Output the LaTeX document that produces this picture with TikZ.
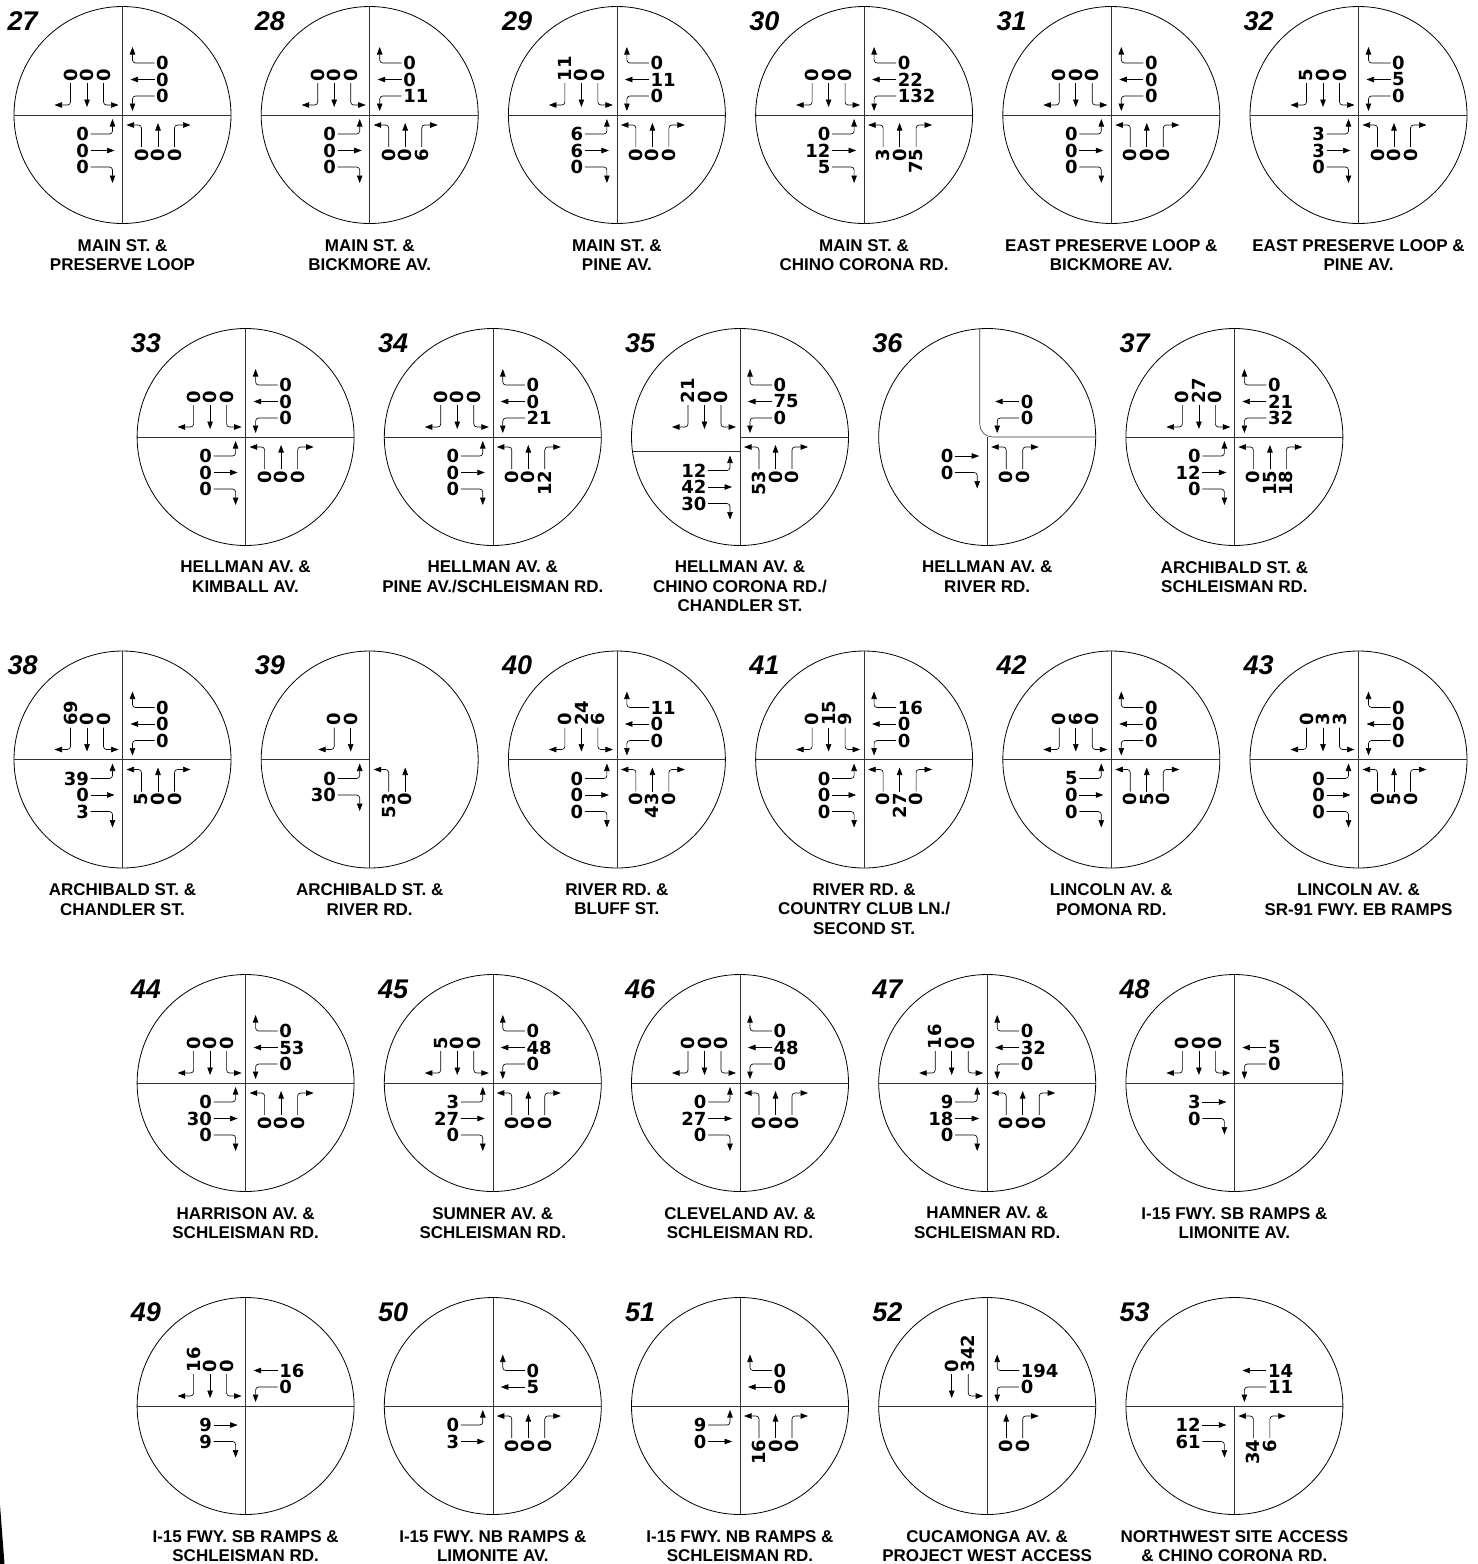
\documentclass[tikz,border=0pt]{standalone}
\usepackage{fontspec}
\setmainfont{Liberation Sans}
\newfontfamily\countfont{DejaVu Sans Bold}
\usetikzlibrary{arrows.meta,calc}

\newcount\slotno

\tikzset{
  ring/.style={line width=0.8pt},
  road/.style={line width=0.6pt,draw=black!80},
  mv/.style={line width=0.65pt,rounded corners=3pt,-{Triangle[length=7.5pt,width=5.5pt]}},
  cnt/.style={inner sep=0.5pt,font=\countfont\fontsize{18}{18}\selectfont},
  cnt0/.style={cnt,rotate=90,anchor=east},
  cnt90/.style={cnt,anchor=west},
  cnt180/.style={cnt,rotate=90,anchor=west},
  cnt270/.style={cnt,anchor=east},
  tag/.style={inner sep=0pt,anchor=base west,font=\bfseries\itshape\fontsize{27}{27}\selectfont},
  street/.style={inner sep=0pt,anchor=north,align=center,font=\bfseries\fontsize{17}{19.5}\selectfont}
}

% circle, number and street names
\newcommand{\xing}[5]{%
  \coordinate (#1) at (#2,#3);
  \draw[ring] (#1) circle[radius=108.5];
  \node[tag] (t#4) at ($(#1)+(-115,85)$) {#4};
  \node[street] (s#4) at ($(#1)+(0,-124)$) {#5};}

\newcommand{\fullcross}[1]{%
  \draw[road] ($(#1)+(-108.5,0)$) -- ($(#1)+(108.5,0)$)
              ($(#1)+(0,108.5)$) -- ($(#1)+(0,-108.5)$);}

% one approach: centre, angle (0 NB, 90 WB, 180 SB, 270 EB), left, through, right
\newcommand{\appr}[5]{%
  \begin{scope}[shift={(#1)},rotate=#2]
    \slotno=0
    \if\relax\detokenize{#3}\relax\else
      \advance\slotno by 1
      \pgfmathsetmacro\pos{19+16.5*(\the\slotno-1)}
      \draw[mv] (\pos,-32) -- (\pos,-10) -- ({\pos-15},-10);
      \node[cnt#2] (#1-#2-l) at (\pos,-33) {#3};
    \fi
    \if\relax\detokenize{#4}\relax\else
      \advance\slotno by 1
      \pgfmathsetmacro\pos{19+16.5*(\the\slotno-1)}
      \draw[mv] (\pos,-32) -- (\pos,-8);
      \node[cnt#2] (#1-#2-t) at (\pos,-33) {#4};
    \fi
    \if\relax\detokenize{#5}\relax\else
      \advance\slotno by 1
      \pgfmathsetmacro\pos{19+16.5*(\the\slotno-1)}
      \draw[mv] (\pos,-32) -- (\pos,-10) -- ({\pos+16},-10);
      \node[cnt#2] (#1-#2-r) at (\pos,-33) {#5};
    \fi
  \end{scope}}

\begin{document}
\begin{tikzpicture}[x=1pt,y=1pt]
  \useasboundingbox (0,0) rectangle (1478,-1564);

  % row 1
  \xing{c27}{122.5}{-115}{27}{MAIN ST. \&\\PRESERVE LOOP}
  \fullcross{c27}
  \appr{c27}{0}{0}{0}{0}
  \appr{c27}{90}{0}{0}{0}
  \appr{c27}{180}{0}{0}{0}
  \appr{c27}{270}{0}{0}{0}

  \xing{c28}{369.7}{-115}{28}{MAIN ST. \&\\BICKMORE AV.}
  \fullcross{c28}
  \appr{c28}{0}{0}{0}{6}
  \appr{c28}{90}{11}{0}{0}
  \appr{c28}{180}{0}{0}{0}
  \appr{c28}{270}{0}{0}{0}

  \xing{c29}{616.9}{-115}{29}{MAIN ST. \&\\PINE AV.}
  \fullcross{c29}
  \appr{c29}{0}{0}{0}{0}
  \appr{c29}{90}{0}{11}{0}
  \appr{c29}{180}{0}{0}{11}
  \appr{c29}{270}{6}{6}{0}

  \xing{c30}{864.1}{-115}{30}{MAIN ST. \&\\CHINO CORONA RD.}
  \fullcross{c30}
  \appr{c30}{0}{3}{0}{75}
  \appr{c30}{90}{132}{22}{0}
  \appr{c30}{180}{0}{0}{0}
  \appr{c30}{270}{0}{12}{5}

  \xing{c31}{1111.3}{-115}{31}{EAST PRESERVE LOOP \&\\BICKMORE AV.}
  \fullcross{c31}
  \appr{c31}{0}{0}{0}{0}
  \appr{c31}{90}{0}{0}{0}
  \appr{c31}{180}{0}{0}{0}
  \appr{c31}{270}{0}{0}{0}

  \xing{c32}{1358.5}{-115}{32}{EAST PRESERVE LOOP \&\\PINE AV.}
  \fullcross{c32}
  \appr{c32}{0}{0}{0}{0}
  \appr{c32}{90}{0}{5}{0}
  \appr{c32}{180}{0}{0}{5}
  \appr{c32}{270}{3}{3}{0}

  % row 2
  \xing{c33}{245.6}{-437}{33}{HELLMAN AV. \&\\KIMBALL AV.}
  \fullcross{c33}
  \appr{c33}{0}{0}{0}{0}
  \appr{c33}{90}{0}{0}{0}
  \appr{c33}{180}{0}{0}{0}
  \appr{c33}{270}{0}{0}{0}

  \xing{c34}{492.8}{-437}{34}{HELLMAN AV. \&\\PINE AV./SCHLEISMAN RD.}
  \fullcross{c34}
  \appr{c34}{0}{0}{0}{12}
  \appr{c34}{90}{21}{0}{0}
  \appr{c34}{180}{0}{0}{0}
  \appr{c34}{270}{0}{0}{0}

  \xing{c35}{740.0}{-437}{35}{HELLMAN AV. \&\\CHINO CORONA RD./\\CHANDLER ST.}
  \coordinate (c35e) at ($(c35)+(0,-14.5)$);
  \draw[road] ($(c35)+(0,108.5)$) -- ($(c35)+(0,-108.5)$);
  \draw[road] (c35) -- ($(c35)+(108.5,0)$);
  \draw[road] ($(c35e)+(-107.5,0)$) -- (c35e);
  \appr{c35}{0}{53}{0}{0}
  \appr{c35}{90}{0}{75}{0}
  \appr{c35}{180}{0}{0}{21}
  \appr{c35e}{270}{12}{42}{30}

  \xing{c36}{987.2}{-437}{36}{HELLMAN AV. \&\\RIVER RD.}
  \draw[road,rounded corners=13pt] ($(c36)+(-7.5,108.3)$) -- ($(c36)+(-7.5,0)$) -- ($(c36)+(108.5,0)$);
  \draw[road] (c36) -- ($(c36)+(0,-108.5)$);
  \appr{c36}{0}{0}{}{0}
  \appr{c36}{90}{0}{0}{}
  \appr{c36}{270}{}{0}{0}

  \xing{c37}{1234.4}{-437}{37}{ARCHIBALD ST. \&\\SCHLEISMAN RD.}
  \fullcross{c37}
  \appr{c37}{0}{0}{15}{18}
  \appr{c37}{90}{32}{21}{0}
  \appr{c37}{180}{0}{27}{0}
  \appr{c37}{270}{0}{12}{0}

  % row 3
  \xing{c38}{122.5}{-759.5}{38}{ARCHIBALD ST. \&\\CHANDLER ST.}
  \fullcross{c38}
  \appr{c38}{0}{5}{0}{0}
  \appr{c38}{90}{0}{0}{0}
  \appr{c38}{180}{0}{0}{69}
  \appr{c38}{270}{39}{0}{3}

  \xing{c39}{369.7}{-759.5}{39}{ARCHIBALD ST. \&\\RIVER RD.}
  \draw[road] ($(c39)+(0,108.5)$) -- ($(c39)+(0,-108.5)$);
  \draw[road] (c39) -- ($(c39)+(-108.5,0)$);
  \appr{c39}{0}{53}{0}{}
  \appr{c39}{180}{}{0}{0}
  \appr{c39}{270}{0}{}{30}

  \xing{c40}{616.9}{-759.5}{40}{RIVER RD. \&\\BLUFF ST.}
  \fullcross{c40}
  \appr{c40}{0}{0}{43}{0}
  \appr{c40}{90}{0}{0}{11}
  \appr{c40}{180}{6}{24}{0}
  \appr{c40}{270}{0}{0}{0}

  \xing{c41}{864.1}{-759.5}{41}{RIVER RD. \&\\COUNTRY CLUB LN./\\SECOND ST.}
  \fullcross{c41}
  \appr{c41}{0}{0}{27}{0}
  \appr{c41}{90}{0}{0}{16}
  \appr{c41}{180}{9}{15}{0}
  \appr{c41}{270}{0}{0}{0}

  \xing{c42}{1111.3}{-759.5}{42}{LINCOLN AV. \&\\POMONA RD.}
  \fullcross{c42}
  \appr{c42}{0}{0}{5}{0}
  \appr{c42}{90}{0}{0}{0}
  \appr{c42}{180}{0}{6}{0}
  \appr{c42}{270}{5}{0}{0}

  \xing{c43}{1358.5}{-759.5}{43}{LINCOLN AV. \&\\SR-91 FWY. EB RAMPS}
  \fullcross{c43}
  \appr{c43}{0}{0}{5}{0}
  \appr{c43}{90}{0}{0}{0}
  \appr{c43}{180}{3}{3}{0}
  \appr{c43}{270}{0}{0}{0}

  % row 4
  \xing{c44}{245.6}{-1083}{44}{HARRISON AV. \&\\SCHLEISMAN RD.}
  \fullcross{c44}
  \appr{c44}{0}{0}{0}{0}
  \appr{c44}{90}{0}{53}{0}
  \appr{c44}{180}{0}{0}{0}
  \appr{c44}{270}{0}{30}{0}

  \xing{c45}{492.8}{-1083}{45}{SUMNER AV. \&\\SCHLEISMAN RD.}
  \fullcross{c45}
  \appr{c45}{0}{0}{0}{0}
  \appr{c45}{90}{0}{48}{0}
  \appr{c45}{180}{0}{0}{5}
  \appr{c45}{270}{3}{27}{0}

  \xing{c46}{740.0}{-1083}{46}{CLEVELAND AV. \&\\SCHLEISMAN RD.}
  \fullcross{c46}
  \appr{c46}{0}{0}{0}{0}
  \appr{c46}{90}{0}{48}{0}
  \appr{c46}{180}{0}{0}{0}
  \appr{c46}{270}{0}{27}{0}

  \xing{c47}{987.2}{-1083}{47}{HAMNER AV. \&\\SCHLEISMAN RD.}
  \fullcross{c47}
  \appr{c47}{0}{0}{0}{0}
  \appr{c47}{90}{0}{32}{0}
  \appr{c47}{180}{0}{0}{16}
  \appr{c47}{270}{9}{18}{0}

  \xing{c48}{1234.4}{-1083}{48}{I-15 FWY. SB RAMPS \&\\LIMONITE AV.}
  \fullcross{c48}
  \appr{c48}{90}{0}{5}{}
  \appr{c48}{180}{0}{0}{0}
  \appr{c48}{270}{}{3}{0}

  % row 5
  \xing{c49}{245.6}{-1406}{49}{I-15 FWY. SB RAMPS \&\\SCHLEISMAN RD.}
  \fullcross{c49}
  \appr{c49}{90}{0}{16}{}
  \appr{c49}{180}{0}{0}{16}
  \appr{c49}{270}{}{9}{9}

  \xing{c50}{492.8}{-1406}{50}{I-15 FWY. NB RAMPS \&\\LIMONITE AV.}
  \fullcross{c50}
  \appr{c50}{0}{0}{0}{0}
  \appr{c50}{90}{}{5}{0}
  \appr{c50}{270}{0}{3}{}

  \xing{c51}{740.0}{-1406}{51}{I-15 FWY. NB RAMPS \&\\SCHLEISMAN RD.}
  \fullcross{c51}
  \appr{c51}{0}{16}{0}{0}
  \appr{c51}{90}{}{0}{0}
  \appr{c51}{270}{9}{0}{}

  \xing{c52}{987.2}{-1406}{52}{CUCAMONGA AV. \&\\PROJECT WEST ACCESS}
  \fullcross{c52}
  \appr{c52}{0}{}{0}{0}
  \appr{c52}{90}{0}{}{194}
  \appr{c52}{180}{342}{0}{}

  \xing{c53}{1234.4}{-1406}{53}{NORTHWEST SITE ACCESS\\\& CHINO CORONA RD.}
  \draw[road] ($(c53)+(-108.5,0)$) -- ($(c53)+(108.5,0)$);
  \draw[road] (c53) -- ($(c53)+(0,-108.5)$);
  \appr{c53}{0}{34}{}{6}
  \appr{c53}{90}{11}{14}{}
  \appr{c53}{270}{}{12}{61}

  % scan mark
  \fill (0,-1505) -- (4.5,-1564) -- (0,-1564) -- cycle;
\end{tikzpicture}
\end{document}
